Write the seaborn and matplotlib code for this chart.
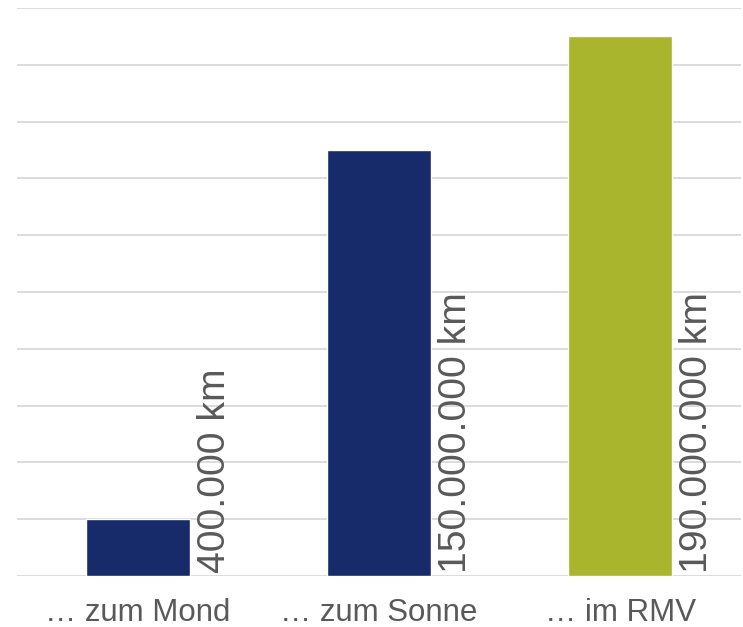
import matplotlib
matplotlib.use("Agg")
import matplotlib.pyplot as plt
import seaborn as sns
import pandas as pd

categories = ["… zum Mond", "… zum Sonne", "… im RMV"]
heights = [1.0, 7.5, 9.5]
labels = ["400.000 km", "150.000.000 km", "190.000.000 km"]
colors = ["#172A69", "#172A69", "#A9B52C"]

df = pd.DataFrame({"cat": categories, "val": heights})

sns.set_theme(style="white")
plt.rcParams["font.family"] = ["Liberation Sans", "DejaVu Sans"]

fig = plt.figure(figsize=(7.43, 6.27), dpi=100)
ax = fig.add_axes([17 / 743, 51 / 627, 724 / 743, 568 / 627])

sns.barplot(data=df, x="cat", y="val", hue="cat", palette=colors, width=0.43,
            legend=False, ax=ax, saturation=1, zorder=3)

ax.set_ylim(0, 10)
ax.set_yticks(range(0, 11))
ax.yaxis.grid(True, color="#D9D9D9", linewidth=1.3, zorder=0)
ax.set_axisbelow(True)
for s in ax.spines.values():
    s.set_visible(False)
ax.tick_params(axis="y", left=False, labelleft=False)
ax.tick_params(axis="x", bottom=False, labelsize=22.5, colors="#595959", pad=10)
ax.set_xlabel("")
ax.set_ylabel("")

for i, lab in enumerate(labels):
    ax.text(i + 0.245, 0.05, lab, rotation=90, ha="left", va="bottom",
            fontsize=28.2, color="#595959", zorder=4)

fig.savefig("out.png", dpi=100)
